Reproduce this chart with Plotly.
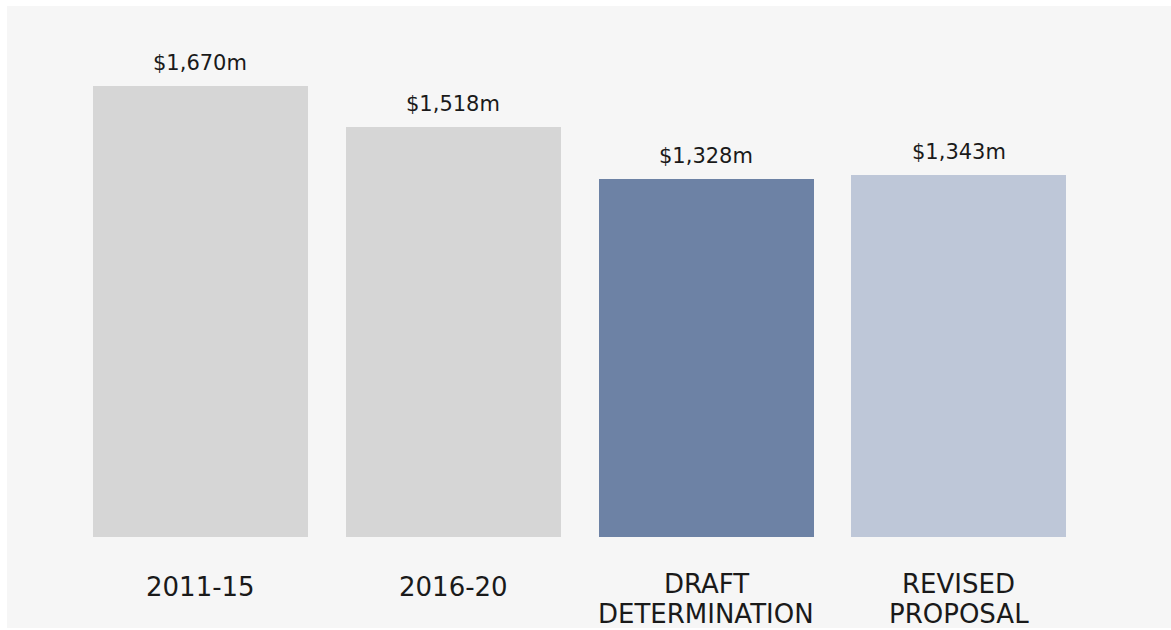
import plotly.graph_objects as go

# Capital expenditure totals by period ($m)
categories = ["2011-15", "2016-20", "DRAFT<br>DETERMINATION", "REVISED<br>PROPOSAL"]
values = [1670, 1518, 1328, 1343]
bar_colors = ["#d6d6d6", "#d6d6d6", "#6d82a5", "#bec7d8"]

FONT = "DejaVu Sans"
TEXT_COLOR = "#1a1a1a"

fig = go.Figure(
    go.Bar(
        x=list(range(len(categories))),
        y=values,
        width=0.85,
        marker=dict(color=bar_colors, line=dict(width=0)),
        hoverinfo="skip",
    )
)

annotations = []
# value labels above each bar
for i, v in enumerate(values):
    annotations.append(dict(
        x=i, y=v, xref="x", yref="y",
        text=f"${v:,}m", showarrow=False,
        yanchor="middle", yshift=23,
        font=dict(family=FONT, size=21, color=TEXT_COLOR),
    ))

# category labels under the baseline, one annotation per line
for i, label in enumerate(categories):
    lines = label.split("<br>")
    if len(lines) == 1:
        shifts = [-50]
    else:
        shifts = [-47, -77]
    for line, s in zip(lines, shifts):
        annotations.append(dict(
            x=i, y=0, xref="x", yref="y",
            text=line, showarrow=False,
            yanchor="middle", yshift=s,
            font=dict(family=FONT, size=26, color=TEXT_COLOR),
        ))

fig.update_layout(
    width=1171, height=630,
    margin=dict(l=7, r=0, t=6, b=2, pad=0),
    paper_bgcolor="#ffffff",
    plot_bgcolor="#f6f6f6",
    showlegend=False,
    annotations=annotations,
    bargap=0,
)
fig.update_xaxes(range=[-0.765, 3.839], showgrid=False, zeroline=False,
                 showticklabels=False, ticks="", fixedrange=True)
fig.update_yaxes(range=[-339.5, 1968.5], showgrid=False, zeroline=False,
                 showticklabels=False, ticks="", fixedrange=True)

fig.write_html("out.html", config={"displayModeBar": False})
